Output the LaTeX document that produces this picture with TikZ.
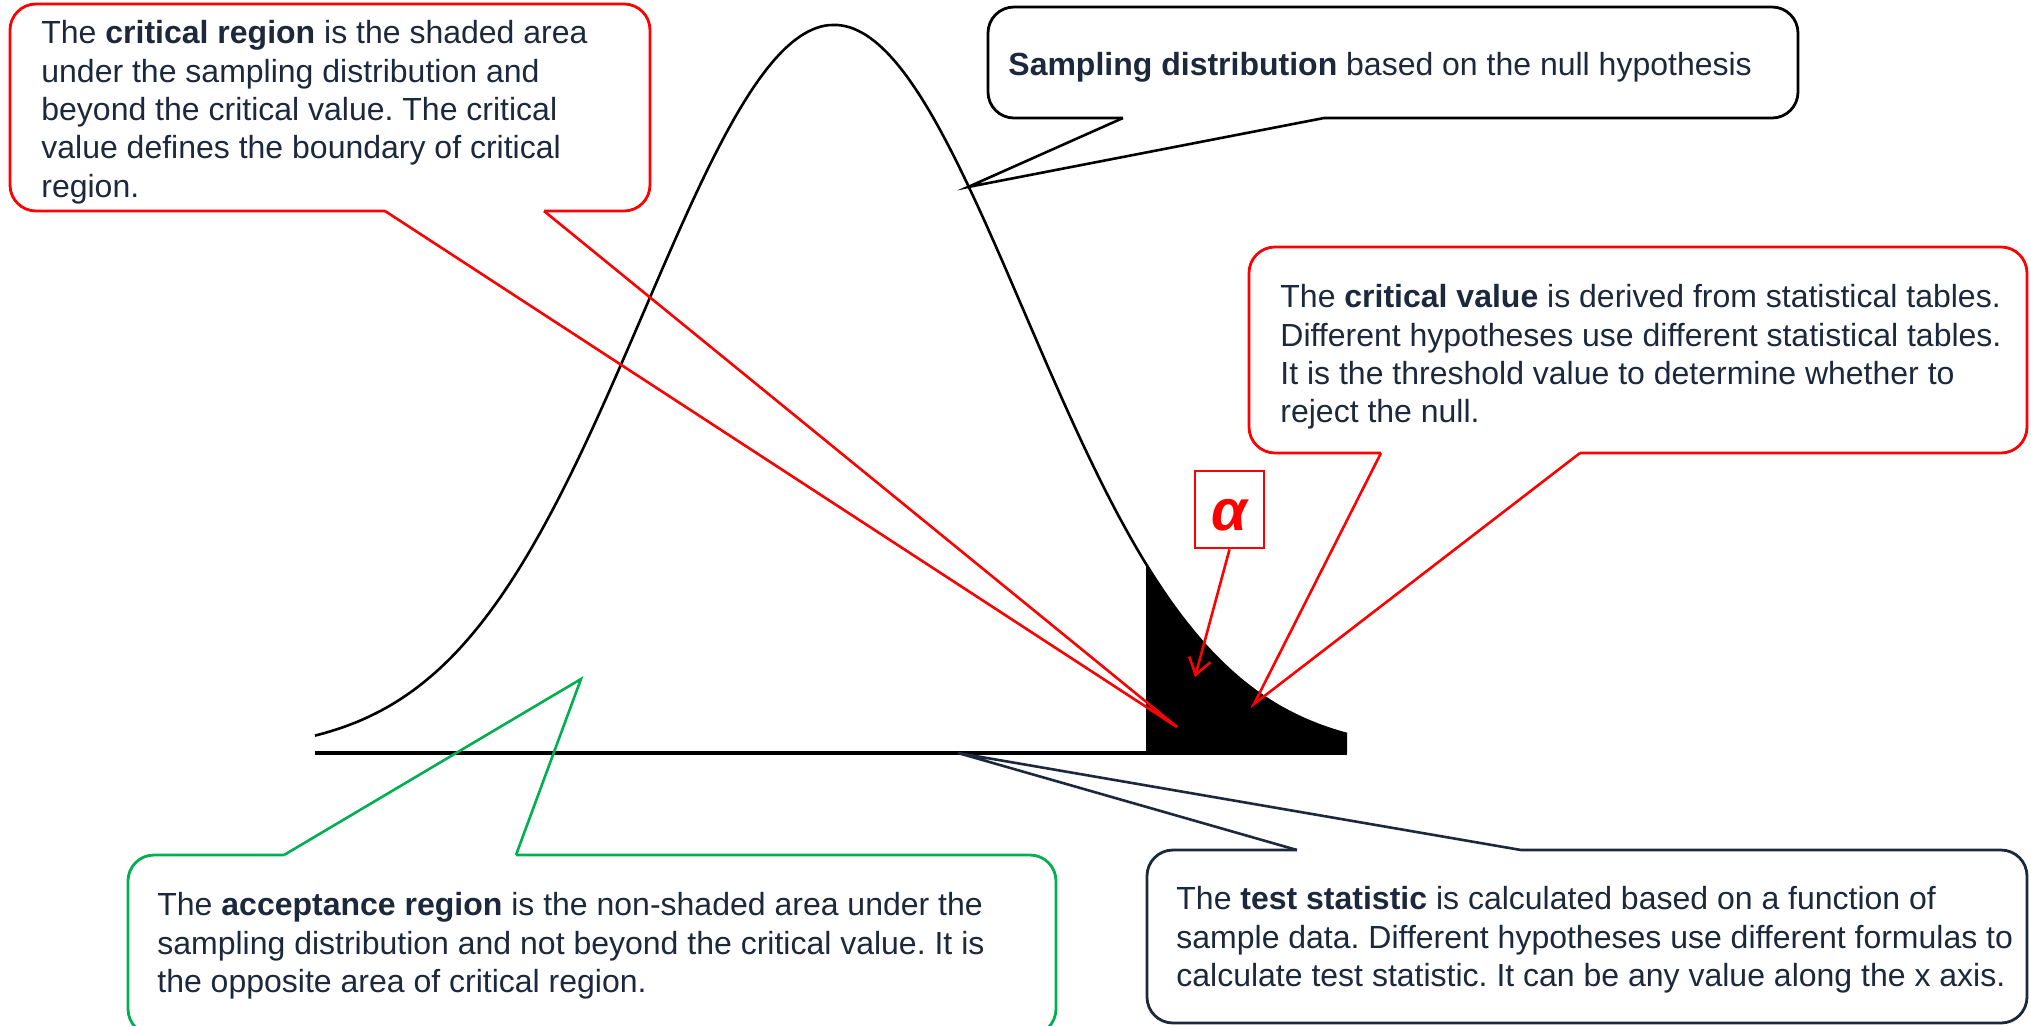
\documentclass[tikz,border=0pt]{standalone}
\usepackage{fontspec}
\setmainfont{Liberation Sans}
\usetikzlibrary{arrows.meta,calc}
\definecolor{textnavy}{HTML}{1C283C}
\definecolor{calloutred}{HTML}{FF0000}
\definecolor{calloutgreen}{HTML}{00B050}
\frenchspacing
\tikzset{
  callout/.style={draw, line width=1.4pt, rounded corners=13pt, anchor=north west, inner sep=0pt, outer sep=0pt},
  calltext/.style={anchor=north west, inner sep=0pt, align=left, text=textnavy, font=\fontsize{16pt}{19.2pt}\selectfont},
  pointer/.style={line width=1.3pt, line join=miter},
  gap/.style={white, line width=2.8pt},
}
\begin{document}
\begin{tikzpicture}[x=0.5pt, y=-0.5pt,
  declare function={dens(\x)=753-728*exp(-0.5*((\x-834)/190)*((\x-834)/190));}]
\useasboundingbox (0,0) rectangle (2031,1025);
\fill[white] (0,0) rectangle (2031,1025);
% sampling distribution with shaded tail
\fill (1146,753) -- plot[domain=1146:1347, samples=80] (\x,{dens(\x)}) -- (1347,753) -- cycle;
\draw[line width=1.3pt] plot[domain=315:1347, samples=250] (\x,{dens(\x)});
\draw[line width=1.6pt] (315,753) -- (1347,753);
% pointer tips
\coordinate (critTip) at (1177,727);
\coordinate (sampleTip) at (968,187);
\coordinate (critvalTip) at (1254,704);
\coordinate (acceptTip) at (581,679);
\coordinate (testTip) at (958,753);
\coordinate (alphaTip) at (1195,677);
% callout boxes
\node[callout, draw=calloutred, minimum width=320pt, minimum height=103.5pt] (critbox) at (10,4) {};
\node[callout, draw=black, minimum width=405pt, minimum height=55.5pt] (samplebox) at (988,7) {};
\node[callout, draw=calloutred, minimum width=389pt, minimum height=103pt] (critvalbox) at (1249,247) {};
\node[callout, draw=calloutgreen, minimum width=464pt, minimum height=90pt] (acceptbox) at (128,855) {};
\node[callout, draw=textnavy, minimum width=440pt, minimum height=86.5pt] (testbox) at (1147,850) {};
% texts
\node[calltext] (crittext) at (41,20) {The \textbf{critical region} is the shaded area\\
  under the sampling distribution and\\
  beyond the critical value. The critical\\
  value defines the boundary of critical\\
  region.};
\node[calltext] (sampletext) at (1008,52) {\textbf{Sampling distribution} based on the null hypothesis};
\node[calltext] (critvaltext) at (1280,284) {The \textbf{critical value} is derived from statistical tables.\\
  Different hypotheses use different statistical tables.\\
  It is the threshold value to determine whether to\\
  reject the null.};
\node[calltext] (accepttext) at (157,892) {The \textbf{acceptance region} is the non-shaded area under the\\
  sampling distribution and not beyond the critical value. It is\\
  the opposite area of critical region.};
\node[calltext] (testtext) at (1176,886) {The \textbf{test statistic} is calculated based on a function of\\
  sample data. Different hypotheses use different formulas to\\
  calculate test statistic. It can be any value along the x axis.};
% pointers
\draw[gap] ($(critbox.south west)+(375,0)$) -- ($(critbox.south west)+(534,0)$);
\draw[pointer, calloutred] ($(critbox.south west)+(375,0)$) -- (critTip) -- ($(critbox.south west)+(534,0)$);
\draw[gap] ($(samplebox.south west)+(135,0)$) -- ($(samplebox.south west)+(336,0)$);
\draw[pointer, black] ($(samplebox.south west)+(135,0)$) -- (sampleTip) -- ($(samplebox.south west)+(336,0)$);
\draw[gap] ($(critvalbox.south west)+(132,0)$) -- ($(critvalbox.south west)+(331,0)$);
\draw[pointer, calloutred] ($(critvalbox.south west)+(132,0)$) -- (critvalTip) -- ($(critvalbox.south west)+(331,0)$);
\draw[gap] ($(acceptbox.north west)+(156,0)$) -- ($(acceptbox.north west)+(388,0)$);
\draw[pointer, calloutgreen] ($(acceptbox.north west)+(156,0)$) -- (acceptTip) -- ($(acceptbox.north west)+(388,0)$);
\draw[gap] ($(testbox.north west)+(150,0)$) -- ($(testbox.north west)+(374,0)$);
\draw[pointer, textnavy] ($(testbox.north west)+(150,0)$) -- (testTip) -- ($(testbox.north west)+(374,0)$);
% alpha label
\node[draw=calloutred, line width=1.4pt, minimum width=34.5pt, minimum height=38.5pt, inner sep=0pt,
  text=calloutred, font=\fontsize{29pt}{29pt}\selectfont\bfseries\itshape] (alphabox) at (1229.5,509.5) {};
\node[text=calloutred, font=\fontsize{29pt}{29pt}\selectfont\bfseries\itshape, inner sep=0pt] (alphatext) at (1229.5,515) {α};
\draw[pointer, calloutred, -{Straight Barb[length=8pt,width=11pt]}] (alphabox.south) -- (alphaTip);
\end{tikzpicture}
\end{document}
